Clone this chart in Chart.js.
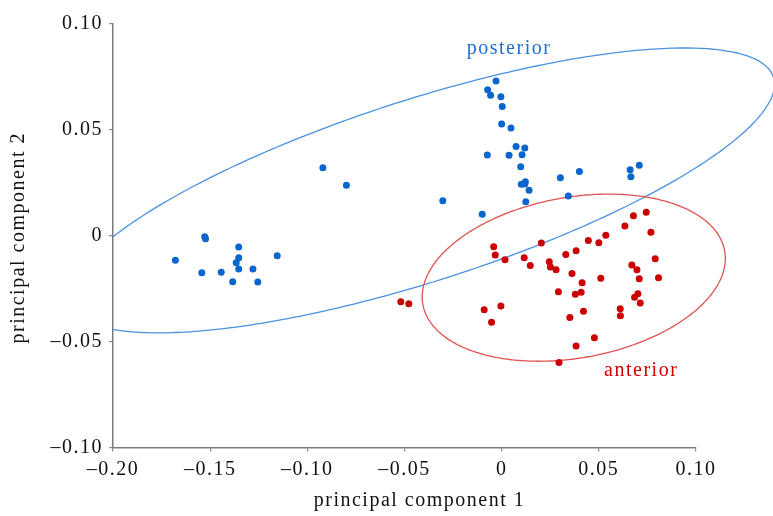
<!DOCTYPE html>
<html>
<head>
<meta charset="utf-8">
<title>principal components</title>
<script src="https://cdn.jsdelivr.net/npm/chart.js@4.4.1/dist/chart.umd.min.js"></script>
<style>
  html, body { margin: 0; padding: 0; background: #fff; }
  #wrap { width: 773px; height: 516px; }
</style>
</head>
<body>
<div id="wrap"><canvas id="chart" width="773" height="516"></canvas></div>
<script>
// scores (pc1 / pc2)
const posteriorPC1 = [-0.1679, -0.1528, -0.1524, -0.1353, -0.1353, -0.1366, -0.1353, -0.1543, -0.1443, -0.1280, -0.1384, -0.1255, -0.1155,
  -0.0920, -0.0799, -0.0303, -0.0100,
  -0.0029, -0.0072, -0.0057, -0.0004, 0.0003, 0.0000, 0.0048, 0.0074, 0.0119, -0.0074, 0.0038, 0.0105, 0.0098, 0.0101, 0.0122, 0.0119,
  0.0141, 0.0124, 0.0302, 0.0400, 0.0661, 0.0708, 0.0665, 0.0343];
const posteriorPC2 = [-0.0116, -0.0005, -0.0014, -0.0053, -0.0104, -0.0128, -0.0157, -0.0175, -0.0172, -0.0157, -0.0217, -0.0219, -0.0095,
  0.0321, 0.0238, 0.0165, 0.0101,
  0.0731, 0.0689, 0.0664, 0.0657, 0.0610, 0.0528, 0.0509, 0.0421, 0.0414, 0.0381, 0.0380, 0.0383, 0.0326, 0.0243, 0.0255, 0.0244,
  0.0215, 0.0161, 0.0274, 0.0304, 0.0312, 0.0333, 0.0279, 0.0188];

const anteriorPC1 = [0.0744, 0.0678, 0.0634, 0.0768, 0.0536, 0.0500, 0.0446, 0.0383, 0.0330, 0.0204, -0.0041, -0.0033, 0.0017, 0.0116,
  0.0147, 0.0245, 0.0251, 0.0280, 0.0362, 0.0414, 0.0510, 0.0670, 0.0696, 0.0790, 0.0708, 0.0807, 0.0292, 0.0379, 0.0409, 0.0701,
  0.0684, 0.0713, 0.0610, 0.0611, 0.0421, 0.0351, 0.0477, 0.0383, 0.0295, -0.0519, -0.0478, -0.0090, -0.0004, -0.0052];
const anteriorPC2 = [0.0111, 0.0095, 0.0046, 0.0016, 0.0002, -0.0033, -0.0022, -0.0071, -0.0088, -0.0034, -0.0052, -0.0091, -0.0113, -0.0104,
  -0.0140, -0.0123, -0.0147, -0.0161, -0.0178, -0.0222, -0.0201, -0.0138, -0.0161, -0.0109, -0.0203, -0.0198, -0.0265, -0.0276, -0.0267, -0.0274,
  -0.0291, -0.0318, -0.0345, -0.0378, -0.0356, -0.0386, -0.0482, -0.0521, -0.0598, -0.0312, -0.0321, -0.0350, -0.0332, -0.0409];

const xTicks = [-0.20, -0.15, -0.10, -0.05, 0, 0.05, 0.10];
const xTickLabels = ['–0.20', '–0.15', '–0.10', '–0.05', '0', '0.05', '0.10'];
const yTicks = [-0.10, -0.05, 0, 0.05, 0.10];
const yTickLabels = ['–0.10', '–0.05', '0', '0.05', '0.10'];

// ellipses as centre + two conjugate half-axes (data units)
const posteriorEllipse = { centre: [-0.0413, 0.0214], u: [0.1817, 0.0501], v: [0, 0.0449] };
const anteriorEllipse = { centre: [0.0371, -0.0198], u: [0.0780, 0.0091], v: [0, 0.0384] };

const groupLabels = ['posterior', 'anterior'];
const groupLabelPos = [[0.0038, 0.0857], [0.0718, -0.0663]];

const xTitle = 'principal component 1';
const yTitle = 'principal component 2';

const BLUE = '#0a66cc', BLUE_LINE = '#4a92e0', BLUE_TEXT = '#1d6fcf';
const RED = '#cc0000', RED_LINE = '#e05252';
const FONT = '"Liberation Serif", "Times New Roman", serif';
const SPACING = '1.5px';

const punkte = (xs, ys) => xs.map((v, i) => ({ x: v, y: ys[i] }));

const abstand = {
  id: 'abstand',
  beforeLayout(chart) { chart.ctx.letterSpacing = SPACING; },
  beforeDraw(chart) { chart.ctx.letterSpacing = SPACING; }
};

const ellipsen = {
  id: 'ellipsen',
  beforeDatasetsDraw(chart) {
    const { ctx, chartArea } = chart;
    const sx = chart.scales.x, sy = chart.scales.y;
    ctx.save();
    ctx.beginPath();
    ctx.rect(chartArea.left, 0, chart.width - chartArea.left, chart.height);
    ctx.clip();
    [[posteriorEllipse, BLUE_LINE], [anteriorEllipse, RED_LINE]].forEach(([e, farbe]) => {
      ctx.beginPath();
      for (let i = 0; i <= 360; i++) {
        const t = i * Math.PI / 180;
        const px = sx.getPixelForValue(e.centre[0] + e.u[0] * Math.cos(t) + e.v[0] * Math.sin(t));
        const py = sy.getPixelForValue(e.centre[1] + e.u[1] * Math.cos(t) + e.v[1] * Math.sin(t));
        if (i === 0) ctx.moveTo(px, py); else ctx.lineTo(px, py);
      }
      ctx.closePath();
      ctx.strokeStyle = farbe;
      ctx.lineWidth = 1.3;
      ctx.stroke();
    });
    ctx.restore();
  }
};

const beschriftung = {
  id: 'beschriftung',
  afterDraw(chart) {
    const { ctx, chartArea } = chart;
    const sx = chart.scales.x, sy = chart.scales.y;
    ctx.save();
    ctx.letterSpacing = SPACING;
    ctx.font = '20px ' + FONT;
    ctx.textAlign = 'center';
    ctx.textBaseline = 'alphabetic';
    [BLUE_TEXT, RED].forEach((farbe, i) => {
      ctx.fillStyle = farbe;
      ctx.fillText(groupLabels[i], sx.getPixelForValue(groupLabelPos[i][0]), sy.getPixelForValue(groupLabelPos[i][1]));
    });
    ctx.fillStyle = '#111';
    ctx.fillText(xTitle, (chartArea.left + chartArea.right) / 2 + 15, chart.height - 10);
    ctx.translate(24, (chartArea.top + chartArea.bottom) / 2 + 2);
    ctx.rotate(-Math.PI / 2);
    ctx.fillText(yTitle, 0, 0);
    ctx.restore();
  }
};

const achse = (min, max, werte, labels, breite) => ({
  type: 'linear',
  min, max,
  afterBuildTicks: s => { s.ticks = werte.map(v => ({ value: v })); },
  afterFit: breite,
  grid: { drawOnChartArea: false, drawTicks: true, tickLength: 4, color: '#8a8a8a', lineWidth: 1.2 },
  border: { display: true, color: '#7a7a7a', width: 1.5 },
  ticks: {
    color: '#111',
    font: { family: FONT, size: 20 },
    padding: 6,
    maxRotation: 0,
    autoSkip: false,
    callback: (v, i) => labels[i]
  }
});

new Chart(document.getElementById('chart'), {
  type: 'scatter',
  data: {
    datasets: [
      { label: 'posterior', data: punkte(posteriorPC1, posteriorPC2), backgroundColor: BLUE, pointRadius: 3.5, borderWidth: 0 },
      { label: 'anterior', data: punkte(anteriorPC1, anteriorPC2), backgroundColor: RED, pointRadius: 3.5, borderWidth: 0 }
    ]
  },
  options: {
    responsive: false,
    animation: false,
    events: [],
    layout: { padding: { left: 0, right: 77, top: 24, bottom: 0 } },
    plugins: { legend: { display: false }, tooltip: { enabled: false } },
    scales: {
      x: achse(-0.20, 0.10, xTicks, xTickLabels, s => { s.height = 68.5; }),
      y: achse(-0.10, 0.10, yTicks, yTickLabels, s => { s.width = 113; })
    }
  },
  plugins: [abstand, ellipsen, beschriftung]
});
</script>
</body>
</html>
